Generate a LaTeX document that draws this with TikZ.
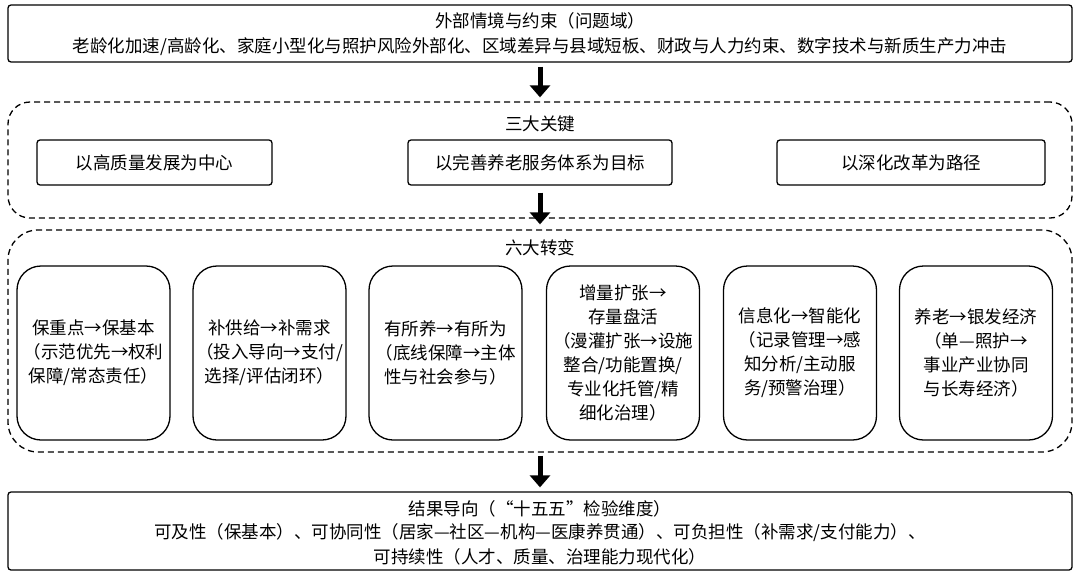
\documentclass[tikz,border=0pt]{standalone}
\usepackage{fontspec}
\setmainfont{Noto Sans CJK SC}
\usetikzlibrary{arrows.meta}

\begin{document}
\begin{tikzpicture}[x = 1pt, y = -1pt, font = \fontsize{17.5}{24}\selectfont,
    solidbox/.style = {draw, line width = 1.3pt, rounded corners = 3pt, align = center},
    dashbox/.style = {draw, line width = 1.3pt, dashed, dash pattern = on 6pt off 4pt, rounded corners = 22pt},
    keybox/.style = {draw, line width = 1.3pt, rounded corners = 3pt, minimum height = 45pt, align = center},
    shiftbox/.style = {draw, line width = 1.3pt, rounded corners = 24pt, minimum width = 153pt, minimum height = 174pt, align = center, inner sep = 1pt},
    bigarrow/.style = {-{Triangle[length = 12pt, width = 20pt]}, line width = 5pt}]
    \useasboundingbox (0,0) rectangle (1080,576);
    % Problem domain
    \node[solidbox, minimum width = 1064pt, minimum height = 57pt] (ctx) at (540,33.5) {};
    \node at (540,21) {外部情境与约束（问题域）};
    \node at (540,47) {老龄化加速/高龄化、家庭小型化与照护风险外部化、区域差异与县域短板、财政与人力约束、数字技术与新质生产力冲击};
    % Three keys
    \node[dashbox, minimum width = 1064pt, minimum height = 116pt] (keys) at (540,160) {};
    \node at (540,124) {三大关键};
    \node[keybox, minimum width = 235pt] (k1) at (154.5,162.5) {以高质量发展为中心};
    \node[keybox, minimum width = 264pt] (k2) at (540,162.5) {以完善养老服务体系为目标};
    \node[keybox, minimum width = 268pt] (k3) at (911,162.5) {以深化改革为路径};
    % Six shifts
    \node[dashbox, rounded corners = 30pt, minimum width = 1064pt, minimum height = 222pt] (shifts) at (540,341) {};
    \node at (540,248) {六大转变};
    \node[shiftbox] (s1) at (93.5,353) {保重点→保基本\\（示范优先→权利\\保障/常态责任）};
    \node[shiftbox] (s2) at (269.5,353) {补供给→补需求\\（投入导向→支付/\\选择/评估闭环）};
    \node[shiftbox] (s3) at (445.5,353) {有所养→有所为\\（底线保障→主体\\性与社会参与）};
    \node[shiftbox] (s4) at (623,353) {增量扩张→\\存量盘活\\（漫灌扩张→设施\\整合/功能置换/\\专业化托管/精\\细化治理）};
    \node[shiftbox] (s5) at (800,353) {信息化→智能化\\（记录管理→感\\知分析/主动服\\务/预警治理）};
    \node[shiftbox] (s6) at (976,353) {养老→银发经济\\（单—照护→\\事业产业协同\\与长寿经济）};
    % Outcomes
    \node[solidbox, minimum width = 1064pt, minimum height = 78pt] (out) at (540,531) {};
    \node at (540,509) {结果导向（“十五五”检验维度）};
    \node at (540,533) {可及性（保基本）、可协同性（居家—社区—机构—医康养贯通）、可负担性（补需求/支付能力）、};
    \node at (540,557) {可持续性（人才、质量、治理能力现代化）};
    % Arrows
    \draw[bigarrow, shorten <= 4pt, shorten >= 4pt] (ctx) -- (keys);
    \draw[bigarrow, shorten <= 7pt, shorten >= 5pt] (k2) -- (shifts);
    \draw[bigarrow, shorten <= 3pt, shorten >= 4pt] (shifts) -- (out);
\end{tikzpicture}
\end{document}
